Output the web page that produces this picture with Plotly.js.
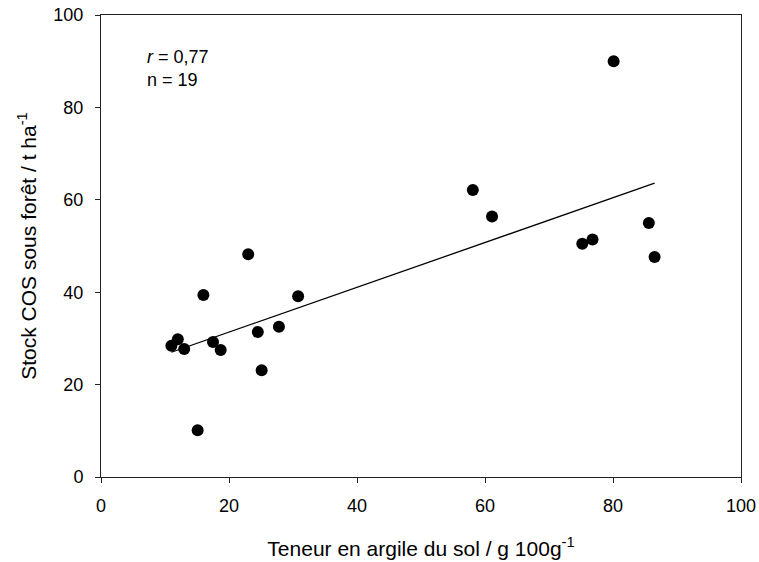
<!DOCTYPE html>
<html>
<head>
<meta charset="utf-8">
<script src="https://cdn.plot.ly/plotly-3.0.1.min.js"></script>
<style>html,body{margin:0;padding:0;background:#fff}#chart{width:759px;height:562px}</style>
</head>
<body>
<div id="chart"></div>
<script>
// Clay content (g/100g) and forest soil organic carbon stock (t/ha)
const clay = [11, 12, 13, 15.1, 16, 17.5, 18.7, 23, 24.5, 25.1, 27.8, 30.8, 58.1, 61.1, 75.2, 76.8, 80.1, 85.6, 86.5];
const stock = [28.4, 29.8, 27.7, 10.1, 39.4, 29.2, 27.5, 48.2, 31.4, 23.1, 32.5, 39.1, 62.1, 56.4, 50.5, 51.4, 90.0, 55.0, 47.6];
// Regression line endpoints
const fitX = [11, 86.5];
const fitY = [27.0, 63.6];
const xTicks = [0, 20, 40, 60, 80, 100];
const yTicks = [0, 20, 40, 60, 80, 100];
const statsText = "<i>r</i> = 0,77<br>n = 19";

const font = "Arial, 'Liberation Sans', sans-serif";

const traces = [
  {x: fitX, y: fitY, mode: 'lines', type: 'scatter', line: {color: '#000', width: 1.3}, hoverinfo: 'skip'},
  {x: clay, y: stock, mode: 'markers', type: 'scatter', marker: {color: '#000', size: 12}}
];

const axisCommon = {
  showgrid: false, zeroline: false, showline: true, linecolor: '#222', linewidth: 1,
  mirror: true, ticks: 'outside', ticklen: 5, tickwidth: 1, tickcolor: '#222',
  tickfont: {family: font, size: 18, color: '#000'}
};

const layout = {
  width: 759, height: 562,
  margin: {l: 101, r: 18, t: 15, b: 85},
  paper_bgcolor: '#fff', plot_bgcolor: '#fff',
  showlegend: false,
  font: {family: font, color: '#000'},
  xaxis: Object.assign({}, axisCommon, {
    range: [0, 100], tickvals: xTicks, ticktext: xTicks.map(String),
    ticklabelstandoff: 7,
    title: {text: 'Teneur en argile du sol / g 100g<sup>-1</sup>', font: {family: font, size: 21, color: '#000'}, standoff: 26}
  }),
  yaxis: Object.assign({}, axisCommon, {
    range: [0, 100], tickvals: yTicks, ticktext: yTicks.map(String),
    ticklabelstandoff: 8,
    title: {text: 'Stock COS sous forêt / t ha<sup>-1</sup>', font: {family: font, size: 21, color: '#000'}, standoff: 11}
  }),
  annotations: [{
    x: 6.9, y: 93.5, xref: 'x', yref: 'y', xanchor: 'left', yanchor: 'top',
    text: statsText, showarrow: false, align: 'left',
    font: {family: font, size: 18, color: '#000'}
  }]
};

Plotly.newPlot('chart', traces, layout, {staticPlot: true, displayModeBar: false});
</script>
</body>
</html>
